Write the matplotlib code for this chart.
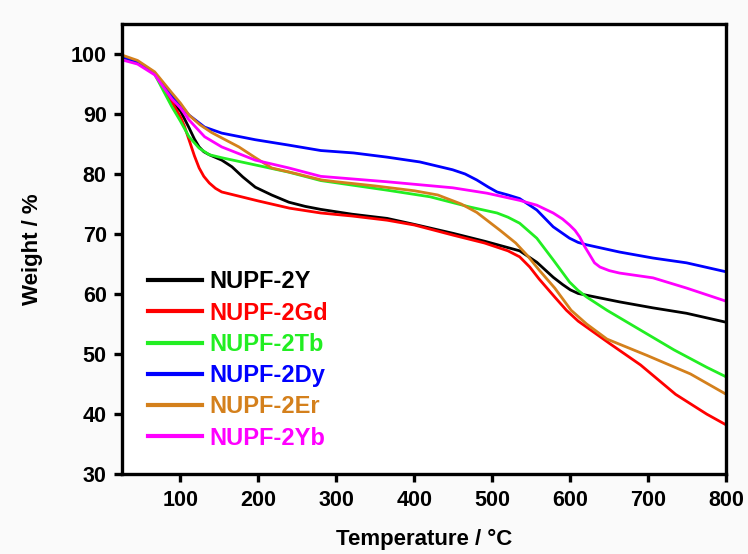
import matplotlib
matplotlib.use("Agg")
import matplotlib.pyplot as plt

plt.rcParams["font.family"] = ["Liberation Sans", "DejaVu Sans"]
plt.rcParams["font.weight"] = "bold"

# TGA curves, temperature (degC) vs remaining weight (%)
t_y = [25, 45, 67, 89, 100, 111, 118, 124, 130, 137, 153, 166, 180, 196, 217, 239, 260, 280, 320,
       365, 400, 450, 490, 535, 557, 578, 590, 600, 610, 621, 663, 706, 749, 800]
w_y = [99.5, 98.7, 96.8, 92.0, 90.5, 87.7, 85.8, 84.5, 83.7, 83.2, 82.3, 81.2, 79.5, 77.8, 76.5,
       75.3, 74.6, 74.1, 73.3, 72.6, 71.6, 70.1, 68.8, 67.2, 65.3, 62.8, 61.6, 60.7, 60.1, 59.8,
       58.7, 57.7, 56.8, 55.3]

t_gd = [25, 45, 67, 89, 100, 105, 111, 118, 124, 130, 137, 145, 153, 175, 200, 240, 280, 320, 365,
        400, 450, 490, 520, 535, 548, 560, 580, 595, 610, 650, 690, 735, 775, 800]
w_gd = [99.5, 98.7, 96.8, 92.0, 89.5, 88.0, 85.7, 83.0, 81.0, 79.6, 78.5, 77.6, 77.0, 76.3, 75.5,
        74.3, 73.5, 73.0, 72.3, 71.5, 69.8, 68.5, 67.2, 66.2, 64.5, 62.5, 59.5, 57.3, 55.5, 51.8,
        48.2, 43.3, 40.0, 38.2]

t_tb = [25, 45, 67, 89, 100, 111, 124, 137, 153, 196, 239, 280, 365, 420, 471, 506, 520, 535, 557,
        578, 599, 610, 621, 647, 690, 733, 775, 800]
w_tb = [99.5, 98.7, 96.6, 91.2, 88.8, 86.2, 84.3, 83.2, 82.7, 81.5, 80.3, 78.9, 77.3, 76.2, 74.5,
        73.5, 72.8, 71.8, 69.3, 65.7, 62.0, 60.6, 59.5, 57.3, 54.0, 50.7, 47.8, 46.2]

t_dy = [25, 45, 67, 89, 100, 111, 131, 153, 196, 239, 280, 322, 365, 407, 449, 465, 480, 495, 506,
        520, 535, 557, 578, 599, 610, 621, 663, 706, 749, 800]
w_dy = [99.5, 98.7, 96.8, 93.0, 91.5, 89.8, 87.8, 86.8, 85.7, 84.8, 83.9, 83.5, 82.8, 82.0, 80.7,
        80.0, 79.0, 77.8, 77.0, 76.5, 75.9, 74.0, 71.2, 69.3, 68.6, 68.2, 67.0, 66.0, 65.2, 63.7]

t_er = [25, 45, 67, 89, 100, 111, 125, 140, 153, 175, 195, 217, 250, 281, 300, 350, 400, 430, 460,
        480, 493, 510, 530, 545, 560, 580, 601, 621, 647, 698, 754, 800]
w_er = [99.8, 98.9, 97.0, 93.5, 91.8, 89.8, 88.2, 86.9, 86.0, 84.5, 82.8, 81.0, 80.0, 79.0, 78.7,
        78.0, 77.2, 76.5, 75.0, 73.6, 72.3, 70.6, 68.5, 66.4, 64.0, 61.0, 57.3, 55.0, 52.5, 49.8,
        46.7, 43.3]

t_yb = [25, 45, 67, 89, 100, 111, 131, 153, 196, 239, 280, 365, 449, 493, 535, 557, 578, 590, 599,
        606, 612, 618, 625, 631, 638, 650, 663, 706, 749, 800]
w_yb = [99.0, 98.3, 96.5, 92.5, 91.0, 89.0, 86.2, 84.5, 82.3, 81.0, 79.6, 78.7, 77.7, 76.8, 75.6,
        74.8, 73.5, 72.5, 71.5, 70.6, 69.5, 68.0, 66.5, 65.2, 64.5, 63.9, 63.5, 62.7, 61.0, 58.8]

series = [
    ("NUPF-2Y", t_y, w_y, "black"),
    ("NUPF-2Gd", t_gd, w_gd, "#ff0000"),
    ("NUPF-2Tb", t_tb, w_tb, "#22ee22"),
    ("NUPF-2Dy", t_dy, w_dy, "#0000ff"),
    ("NUPF-2Er", t_er, w_er, "#d4801c"),
    ("NUPF-2Yb", t_yb, w_yb, "#ff00ff"),
]

fig = plt.figure(figsize=(7.48, 5.54), dpi=100, facecolor="#fafafa")
ax = fig.add_axes([0.163, 0.144, 0.808, 0.813])
ax.set_facecolor("white")

for name, t, w, c in series:
    ax.plot(t, w, color=c, lw=2.0, label=name)

ax.set_xlim(25, 800)
ax.set_ylim(30, 105)
ax.set_xticks(range(100, 801, 100))
ax.set_yticks(range(30, 101, 10))

for s in ax.spines.values():
    s.set_linewidth(2.4)
ax.tick_params(direction="out", length=6, width=2.4, labelsize=15.5, pad=5)
for lab in ax.get_xticklabels() + ax.get_yticklabels():
    lab.set_fontweight("bold")

ax.set_xlabel("Temperature / °C", fontsize=16, fontweight="bold", labelpad=13)
ax.set_ylabel("Weight / %", fontsize=16, fontweight="bold", labelpad=20)

leg = ax.legend(loc="upper left", bbox_to_anchor=(0.008, 0.5), frameon=False,
                handlelength=2.3, handletextpad=0.3, labelspacing=0.35,
                labelcolor="linecolor", prop={"weight": "bold", "size": 17})
for line in leg.get_lines():
    line.set_linewidth(3.0)

fig.savefig("out.png", dpi=100, facecolor=fig.get_facecolor())
